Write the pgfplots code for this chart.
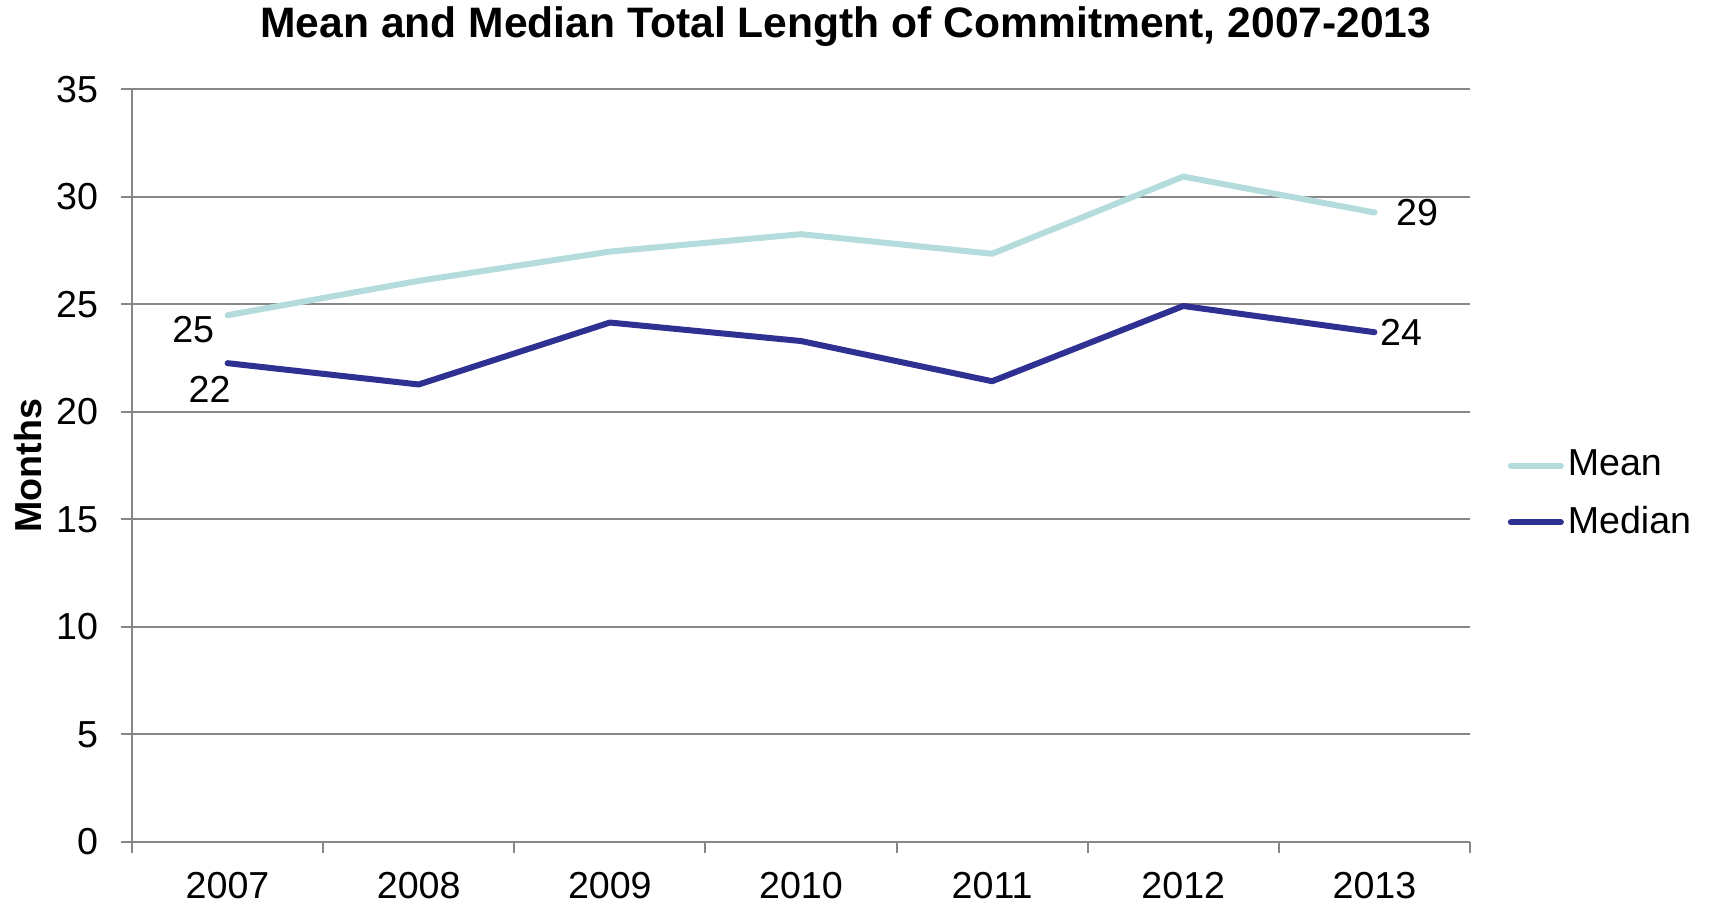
\documentclass[border=0pt]{standalone}
\usepackage{fontspec}
\setmainfont{Liberation Sans}
\usepackage{pgfplots}
\pgfplotsset{compat=1.18}
\definecolor{meancol}{HTML}{B4DCDD}
\definecolor{mediancol}{HTML}{2E3192}
\definecolor{gridgray}{HTML}{868686}
\newcommand{\chartfont}{\fontsize{18.8}{22}\selectfont}
\begin{document}
\chartfont
\begin{tikzpicture}
\useasboundingbox (-66pt,-33pt) rectangle (789pt,421pt);
\begin{axis}[
  scale only axis, width=669pt, height=376.25pt,
  xmin=-0.5, xmax=6.5, ymin=0, ymax=35,
  axis x line*=bottom, axis y line*=left,
  axis line style={gridgray, line width=1pt, -},
  xtick={0,...,6}, xticklabels={2007,2008,2009,2010,2011,2012,2013},
  minor xtick={-0.5,0.5,...,6.5},
  ytick={0,5,...,35},
  ymajorgrids, grid style={gridgray, line width=1pt},
  tick align=outside, major tick length=5.5pt, minor tick length=5.5pt,
  tick style={gridgray, line width=1pt},
  major x tick style={draw=none},
  minor x tick style={gridgray, line width=1pt},
  /pgf/number format/assume math mode=true,
  tick label style={font=\chartfont},
  yticklabel style={xshift=-5pt},
  xticklabel style={yshift=-3pt},
  title={Mean and Median Total Length of Commitment, 2007-2013},
  title style={at={(axis description cs:0.5336,1.067)}, anchor=center, font=\fontsize{21.3}{25}\selectfont\bfseries},
  ylabel={Months},
  ylabel style={at={(axis description cs:-0.0777,0.5)}, anchor=center, rotate=0, font=\chartfont\bfseries},
  legend style={draw=none, fill=none, at={(axis description cs:1.028,0.462)}, anchor=west, font=\chartfont, row sep=8.2pt, inner sep=0pt},
  legend cell align=left,
  legend image code/.code={\draw[#1, line width=3pt, line cap=round] (0pt,0pt) -- (25pt,0pt);},
]
\addplot[meancol, line width=3pt, line cap=round, line join=round] coordinates {
  (0,24.5) (1,26.1) (2,27.46) (3,28.27) (4,27.36) (5,30.95) (6,29.28)};
\addlegendentry{Mean}
\addplot[mediancol, line width=3pt, line cap=round, line join=round] coordinates {
  (0,22.27) (1,21.28) (2,24.16) (3,23.30) (4,21.43) (5,24.93) (6,23.71)};
\addlegendentry{Median}
\node[font=\chartfont] at (axis cs:0,24.5) [xshift=-17.2pt, yshift=-7.1pt] {25};
\node[font=\chartfont] at (axis cs:0,22.27) [xshift=-9pt, yshift=-13.1pt] {22};
\node[font=\chartfont] at (axis cs:6,29.28) [xshift=21.3pt] {29};
\node[font=\chartfont] at (axis cs:6,23.71) [xshift=13.3pt] {24};
\end{axis}
\end{tikzpicture}
\end{document}
